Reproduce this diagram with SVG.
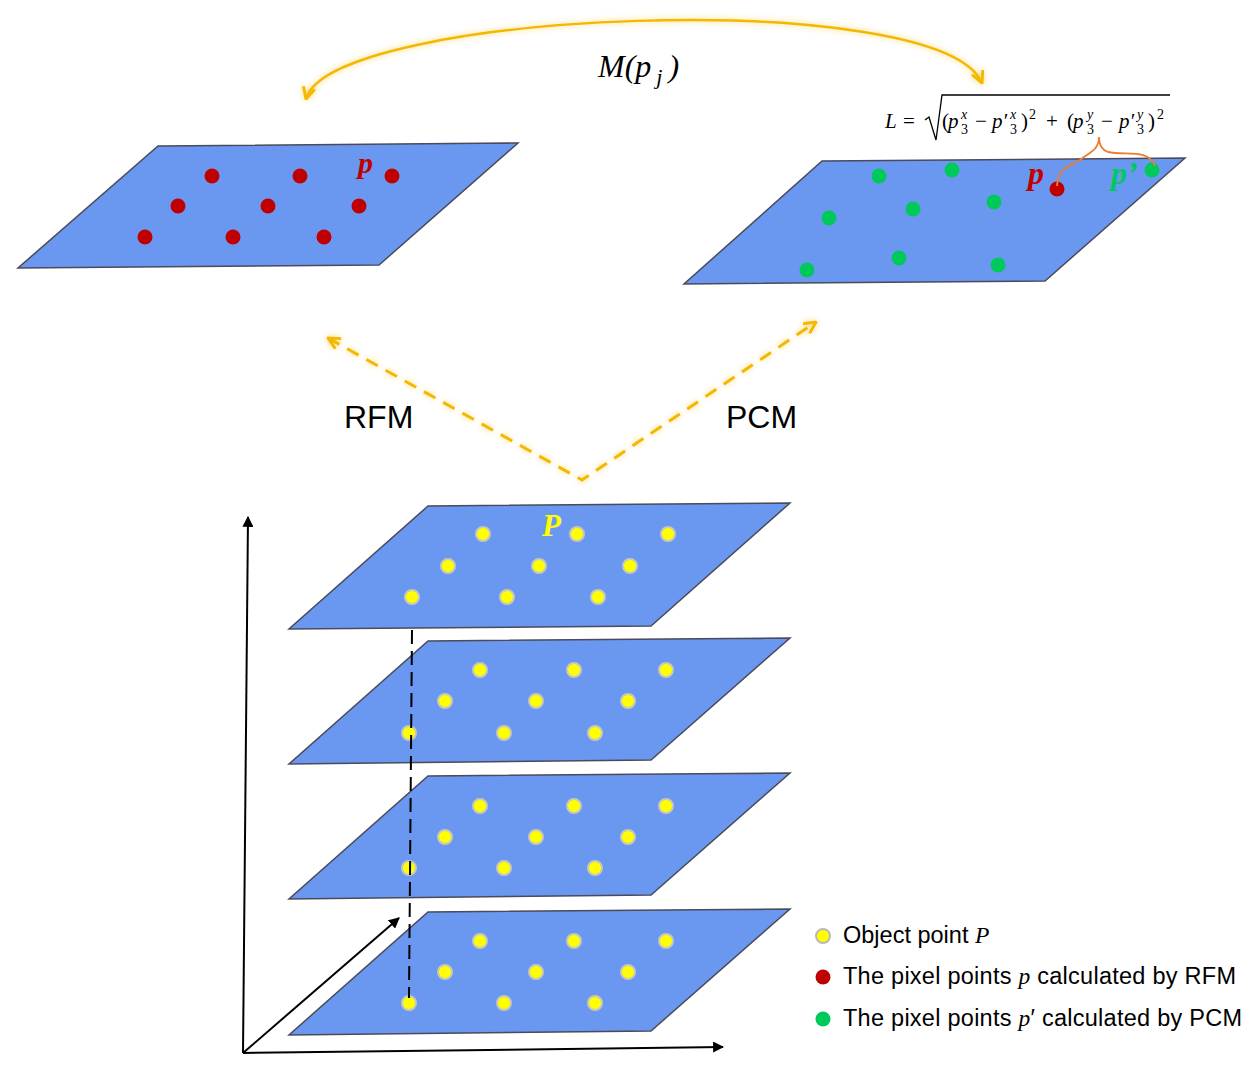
<svg xmlns="http://www.w3.org/2000/svg" width="1256" height="1080" viewBox="0 0 1256 1080">
<style>
.plane{fill:#6A98F0;stroke:#4a4a5a;stroke-width:1.5}
.red{fill:#C00000}
.green{fill:#00C95C}
.yel{fill:#FFFF00;stroke:#C8C8B8;stroke-width:2}
.gold{fill:none;stroke:#F5B800;stroke-width:2.5}
.goldd{fill:none;stroke:#F5B800;stroke-width:3;stroke-dasharray:13 9}
.axis{fill:none;stroke:#000;stroke-width:2}
.m{font-family:"Liberation Serif","DejaVu Serif",serif;font-style:italic}
.s{font-family:"Liberation Sans",Arial,sans-serif}
.f{font-family:"Liberation Serif","DejaVu Serif",serif;font-size:21px;fill:#000}
.fs{font-family:"Liberation Serif","DejaVu Serif",serif;font-size:14px;fill:#000}
</style>
<defs>
<filter id="glow" x="-10%" y="-30%" width="120%" height="160%">
<feGaussianBlur in="SourceGraphic" stdDeviation="3" result="b"/>
<feComponentTransfer in="b" result="b2"><feFuncA type="linear" slope="0.6"/></feComponentTransfer>
<feMerge><feMergeNode in="b2"/><feMergeNode in="SourceGraphic"/></feMerge>
</filter>
<marker id="chev" markerUnits="userSpaceOnUse" viewBox="0 0 12 12" refX="11" refY="6" markerWidth="14" markerHeight="14" orient="auto-start-reverse">
<path d="M1,1 L11,6 L1,11" fill="none" stroke="#F5B800" stroke-width="2.5"/>
</marker>
<marker id="tri" markerUnits="userSpaceOnUse" viewBox="0 0 10 10" refX="9" refY="5" markerWidth="11" markerHeight="11" orient="auto">
<path d="M0,0 L10,5 L0,10 Z" fill="#000"/>
</marker>
</defs>

<g id="top-left-plane">
<polygon class="plane" points="158,146 518,143 379,265 18,268"/>
<circle class="red" cx="212" cy="176" r="7.5"/>
<circle class="red" cx="300" cy="176" r="7.5"/>
<circle class="red" cx="392" cy="176" r="7.5"/>
<circle class="red" cx="178" cy="206" r="7.5"/>
<circle class="red" cx="268" cy="206" r="7.5"/>
<circle class="red" cx="359" cy="206" r="7.5"/>
<circle class="red" cx="145" cy="237" r="7.5"/>
<circle class="red" cx="233" cy="237" r="7.5"/>
<circle class="red" cx="324" cy="237" r="7.5"/>
<text class="m" x="358" y="173" font-size="30" font-weight="bold" fill="#C00000">p</text>
</g>

<g id="top-right-plane">
<polygon class="plane" points="822,161 1185,158 1045,281 684,284"/>
<circle class="green" cx="879" cy="176" r="7.5"/>
<circle class="green" cx="952" cy="170" r="7.5"/>
<circle class="green" cx="994" cy="202" r="7.5"/>
<circle class="green" cx="829" cy="218" r="7.5"/>
<circle class="green" cx="913" cy="209" r="7.5"/>
<circle class="green" cx="807" cy="270" r="7.5"/>
<circle class="green" cx="899" cy="258" r="7.5"/>
<circle class="green" cx="998" cy="265" r="7.5"/>
<circle class="green" cx="1152" cy="170" r="7.5"/>
<circle class="red" cx="1057" cy="189" r="7.5"/>
<text class="m" x="1028" y="184" font-size="32" font-weight="bold" fill="#C00000">p</text>
<text class="m" x="1111" y="184" font-size="32" font-weight="bold" fill="#00C95C">p’</text>
</g>

<g id="formula">
<text class="f" x="885" y="128" font-style="italic">L</text>
<text class="f" x="903" y="128">=</text>
<path d="M925,120 L929,117 L936,140 L942,95 L1170,95" fill="none" stroke="#000" stroke-width="1.3"/>
<text class="f" x="942" y="128">(</text>
<text class="f" x="948" y="128" font-style="italic">p</text>
<text class="fs" x="961" y="119" font-style="italic">x</text>
<text class="fs" x="961" y="134">3</text>
<text class="f" x="975" y="128">−</text>
<text class="f" x="992" y="128" font-style="italic">p′</text>
<text class="fs" x="1010" y="119" font-style="italic">x</text>
<text class="fs" x="1010" y="134">3</text>
<text class="f" x="1021" y="128">)</text>
<text class="fs" x="1029" y="119">2</text>
<text class="f" x="1046" y="128">+</text>
<text class="f" x="1067" y="128">(</text>
<text class="f" x="1073" y="128" font-style="italic">p</text>
<text class="fs" x="1087" y="119" font-style="italic">y</text>
<text class="fs" x="1087" y="134">3</text>
<text class="f" x="1101" y="128">−</text>
<text class="f" x="1119" y="128" font-style="italic">p′</text>
<text class="fs" x="1137" y="119" font-style="italic">y</text>
<text class="fs" x="1137" y="134">3</text>
<text class="f" x="1148" y="128">)</text>
<text class="fs" x="1157" y="119">2</text>
<path d="M1099,137 C1099,146 1102,150 1108,152 C1125,156 1148,148 1155,166 M1099,137 C1099,150 1090,152 1080,160 C1066,168 1058,168 1057,186" fill="none" stroke="#ED7D31" stroke-width="1.8"/>
</g>

<g id="bottom-stack">
<polygon class="plane" points="428,912 790,909 651,1031 289,1035"/>
<circle class="yel" cx="480" cy="941" r="7"/><circle class="yel" cx="574" cy="941" r="7"/><circle class="yel" cx="666" cy="941" r="7"/>
<circle class="yel" cx="445" cy="972" r="7"/><circle class="yel" cx="536" cy="972" r="7"/><circle class="yel" cx="628" cy="972" r="7"/>
<circle class="yel" cx="409" cy="1003" r="7"/><circle class="yel" cx="504" cy="1003" r="7"/><circle class="yel" cx="595" cy="1003" r="7"/>

<polygon class="plane" points="428,776 790,773 651,895 289,899"/>
<circle class="yel" cx="480" cy="806" r="7"/><circle class="yel" cx="574" cy="806" r="7"/><circle class="yel" cx="666" cy="806" r="7"/>
<circle class="yel" cx="445" cy="837" r="7"/><circle class="yel" cx="536" cy="837" r="7"/><circle class="yel" cx="628" cy="837" r="7"/>
<circle class="yel" cx="409" cy="868" r="7"/><circle class="yel" cx="504" cy="868" r="7"/><circle class="yel" cx="595" cy="868" r="7"/>

<polygon class="plane" points="428,641 790,638 651,760 289,764"/>
<circle class="yel" cx="480" cy="670" r="7"/><circle class="yel" cx="574" cy="670" r="7"/><circle class="yel" cx="666" cy="670" r="7"/>
<circle class="yel" cx="445" cy="701" r="7"/><circle class="yel" cx="536" cy="701" r="7"/><circle class="yel" cx="628" cy="701" r="7"/>
<circle class="yel" cx="409" cy="733" r="7"/><circle class="yel" cx="504" cy="733" r="7"/><circle class="yel" cx="595" cy="733" r="7"/>

<polygon class="plane" points="428,506 790,503 651,626 289,629"/>
<circle class="yel" cx="483" cy="534" r="7"/><circle class="yel" cx="577" cy="534" r="7"/><circle class="yel" cx="668" cy="534" r="7"/>
<circle class="yel" cx="448" cy="566" r="7"/><circle class="yel" cx="539" cy="566" r="7"/><circle class="yel" cx="630" cy="566" r="7"/>
<circle class="yel" cx="412" cy="597" r="7"/><circle class="yel" cx="507" cy="597" r="7"/><circle class="yel" cx="598" cy="597" r="7"/>
<text class="m" x="542" y="536" font-size="31" font-weight="bold" fill="#FFFF00">P</text>
</g>

<g id="axes">
<line class="axis" x1="243" y1="1053" x2="248" y2="517" marker-end="url(#tri)"/>
<line class="axis" x1="243" y1="1053" x2="723" y2="1047" marker-end="url(#tri)"/>
<line class="axis" x1="243" y1="1053" x2="399" y2="918" marker-end="url(#tri)"/>
</g>

<g id="connectors">
<path class="gold" filter="url(#glow)" d="M306,99 C330,10 940,-15 982,83" marker-start="url(#chev)" marker-end="url(#chev)"/>
<polyline class="goldd" filter="url(#glow)" points="328,338 582,480 816,322" marker-start="url(#chev)" marker-end="url(#chev)"/>
<line x1="412" y1="630" x2="409" y2="998" stroke="#000" stroke-width="2" stroke-dasharray="14 7"/>
</g>

<g id="labels">
<text class="m" x="598" y="77" font-size="32">M(p<tspan font-size="22" dx="5" dy="7">j</tspan><tspan dx="6" dy="-7">)</tspan></text>
<text class="s" x="344" y="428" font-size="32" fill="#000">RFM</text>
<text class="s" x="726" y="428" font-size="32" fill="#000">PCM</text>
</g>

<g id="legend">
<circle cx="823" cy="936" r="7" fill="#FFFF00" stroke="#B8B8B8" stroke-width="2"/>
<circle cx="823" cy="977" r="7.5" fill="#C00000"/>
<circle cx="823" cy="1019" r="7.5" fill="#00C95C"/>
<text class="s" x="843" y="943" font-size="23.5" fill="#000">Object point <tspan class="m">P</tspan></text>
<text class="s" x="843" y="984" font-size="23.5" fill="#000" textLength="393" lengthAdjust="spacing">The pixel points <tspan class="m">p</tspan> calculated by RFM</text>
<text class="s" x="843" y="1026" font-size="23.5" fill="#000" textLength="399" lengthAdjust="spacing">The pixel points <tspan class="m">p</tspan>′ calculated by PCM</text>
</g>
</svg>
